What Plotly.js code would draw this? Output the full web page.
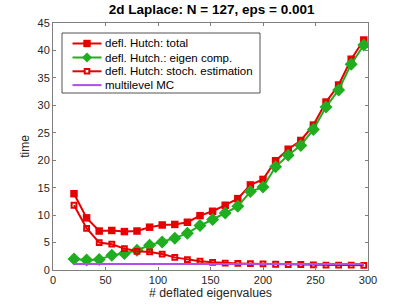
<!DOCTYPE html>
<html>
<head>
<meta charset="utf-8">
<script src="https://cdn.plot.ly/plotly-3.0.1.min.js"></script>
<style>html,body{margin:0;padding:0;background:#fff;}#chart{width:407px;height:305px;}</style>
</head>
<body>
<div id="chart"></div>
<script>
const deflated = [20,32,44,56,68,80,92,104,116,128,140,152,164,176,188,200,212,224,236,248,260,272,284,296];
const totalTime = [13.9,9.5,7.1,7.2,7.0,7.1,7.8,8.2,8.3,8.7,9.9,10.7,11.8,13.0,15.5,16.5,19.9,22.0,23.6,26.4,30.6,33.7,38.4,41.9];
const eigenTime = [2.0,1.8,1.9,2.7,3.0,3.6,4.5,5.1,5.8,6.7,8.1,9.2,10.4,11.6,14.3,15.1,18.8,20.9,22.7,25.6,29.7,32.8,37.5,41.0];
const stochTime = [11.8,7.6,5.0,4.7,3.9,3.4,3.3,2.9,2.3,1.9,1.6,1.4,1.25,1.2,1.15,1.1,1.05,1.0,1.0,0.95,0.9,0.9,0.9,0.85];
const mlmcX = [20,296];
const mlmcTime = [1.1,1.1];
const seriesNames = ['defl. Hutch: total','defl. Hutch.: eigen comp.','defl. Hutch: stoch. estimation','multilevel MC'];
const xTicks = [0,50,100,150,200,250,300];
const yTicks = [0,5,10,15,20,25,30,35,40,45];

const red = '#e60000', green = '#1fae1f', purple = '#b04ee8';
const FONT = 'Liberation Sans, Arial, sans-serif';
const M = {l: 53, r: 39, t: 23, b: 35};
const W = 407, H = 305;
const PW = W - M.l - M.r, PH = H - M.t - M.b;
const px = X => (X - M.l) / PW;
const py = Y => (H - M.b - Y) / PH;

const traces = [
  {x: deflated, y: totalTime, name: seriesNames[0], mode: 'lines+markers',
   line: {color: red, width: 2}, marker: {symbol: 'square', size: 7.5, color: red}},
  {x: deflated, y: eigenTime, name: seriesNames[1], mode: 'lines+markers',
   line: {color: green, width: 2}, marker: {symbol: 'diamond', size: 10, color: green}},
  {x: deflated, y: stochTime, name: seriesNames[2], mode: 'lines+markers',
   line: {color: red, width: 2}, marker: {symbol: 'square-open', size: 4.8, color: red, line: {width: 2, color: red}}},
  {x: mlmcX, y: mlmcTime, name: seriesNames[3], mode: 'lines',
   line: {color: purple, width: 2}}
];

// manual legend (MATLAB-style compact box)
const legBox = {x0: 62, x1: 260, y0: 33, y1: 93};
const rowY = [43.5, 57.5, 71.3, 85.1];
const sampleX0 = 72.5, sampleX1 = 101.5, sampleXc = 87, textX = 103;
const legendStyle = [
  {color: red, marker: 'square'},
  {color: green, marker: 'diamond'},
  {color: red, marker: 'square-open'},
  {color: purple, marker: null}
];
const shapes = [{type: 'rect', xref: 'paper', yref: 'paper',
  x0: px(legBox.x0), x1: px(legBox.x1), y0: py(legBox.y1), y1: py(legBox.y0),
  fillcolor: '#fff', line: {color: '#262626', width: 0.8}, layer: 'above'}];
const annotations = [];
legendStyle.forEach((s, i) => {
  const Y = rowY[i];
  shapes.push({type: 'line', xref: 'paper', yref: 'paper', x0: px(sampleX0), x1: px(sampleX1), y0: py(Y), y1: py(Y),
    line: {color: s.color, width: 2}, layer: 'above'});
  if (s.marker === 'square') {
    shapes.push({type: 'rect', xref: 'paper', yref: 'paper', x0: px(sampleXc - 3.7), x1: px(sampleXc + 3.7),
      y0: py(Y + 3.7), y1: py(Y - 3.7), fillcolor: s.color, line: {width: 0}, layer: 'above'});
  } else if (s.marker === 'square-open') {
    shapes.push({type: 'rect', xref: 'paper', yref: 'paper', x0: px(sampleXc - 2.3), x1: px(sampleXc + 2.3),
      y0: py(Y + 2.3), y1: py(Y - 2.3), fillcolor: '#fff', line: {width: 2, color: s.color}, layer: 'above'});
  } else if (s.marker === 'diamond') {
    const d = 5;
    shapes.push({type: 'path', xref: 'paper', yref: 'paper',
      path: `M ${px(sampleXc)} ${py(Y - d)} L ${px(sampleXc + d)} ${py(Y)} L ${px(sampleXc)} ${py(Y + d)} L ${px(sampleXc - d)} ${py(Y)} Z`,
      fillcolor: s.color, line: {width: 0}, layer: 'above'});
  }
  annotations.push({xref: 'paper', yref: 'paper', x: px(textX), y: py(Y), xanchor: 'left', yanchor: 'middle',
    text: seriesNames[i], showarrow: false, font: {family: FONT, size: 11.5, color: '#000'}});
});

const axisCommon = {
  showline: true, mirror: 'ticks', linecolor: '#7f7f7f', linewidth: 1,
  ticks: 'inside', ticklen: 3, tickcolor: '#7f7f7f', showgrid: false, zeroline: false,
  tickfont: {family: FONT, size: 11, color: '#262626'}
};
const layout = {
  width: W, height: H, margin: M,
  paper_bgcolor: '#fff', plot_bgcolor: '#fff',
  font: {family: FONT, color: '#262626'},
  title: {text: '<b>2d Laplace: N = 127, eps = 0.001</b>', x: 0.52, xanchor: 'center', y: 0.97, yanchor: 'middle',
          font: {size: 13.5, color: '#000', family: FONT}},
  xaxis: Object.assign({}, axisCommon, {range: [0, 300], tickvals: xTicks, ticktext: xTicks.map(String),
          title: {text: '# deflated eigenvalues', standoff: 1, font: {size: 12.3, color: '#262626'}}}),
  yaxis: Object.assign({}, axisCommon, {range: [0, 45], tickvals: yTicks, ticktext: yTicks.map(String),
          title: {text: 'time', standoff: 5, font: {size: 12, color: '#262626'}}}),
  showlegend: false,
  shapes: shapes,
  annotations: annotations
};
Plotly.newPlot('chart', traces, layout, {displayModeBar: false, staticPlot: true});
</script>
</body>
</html>
